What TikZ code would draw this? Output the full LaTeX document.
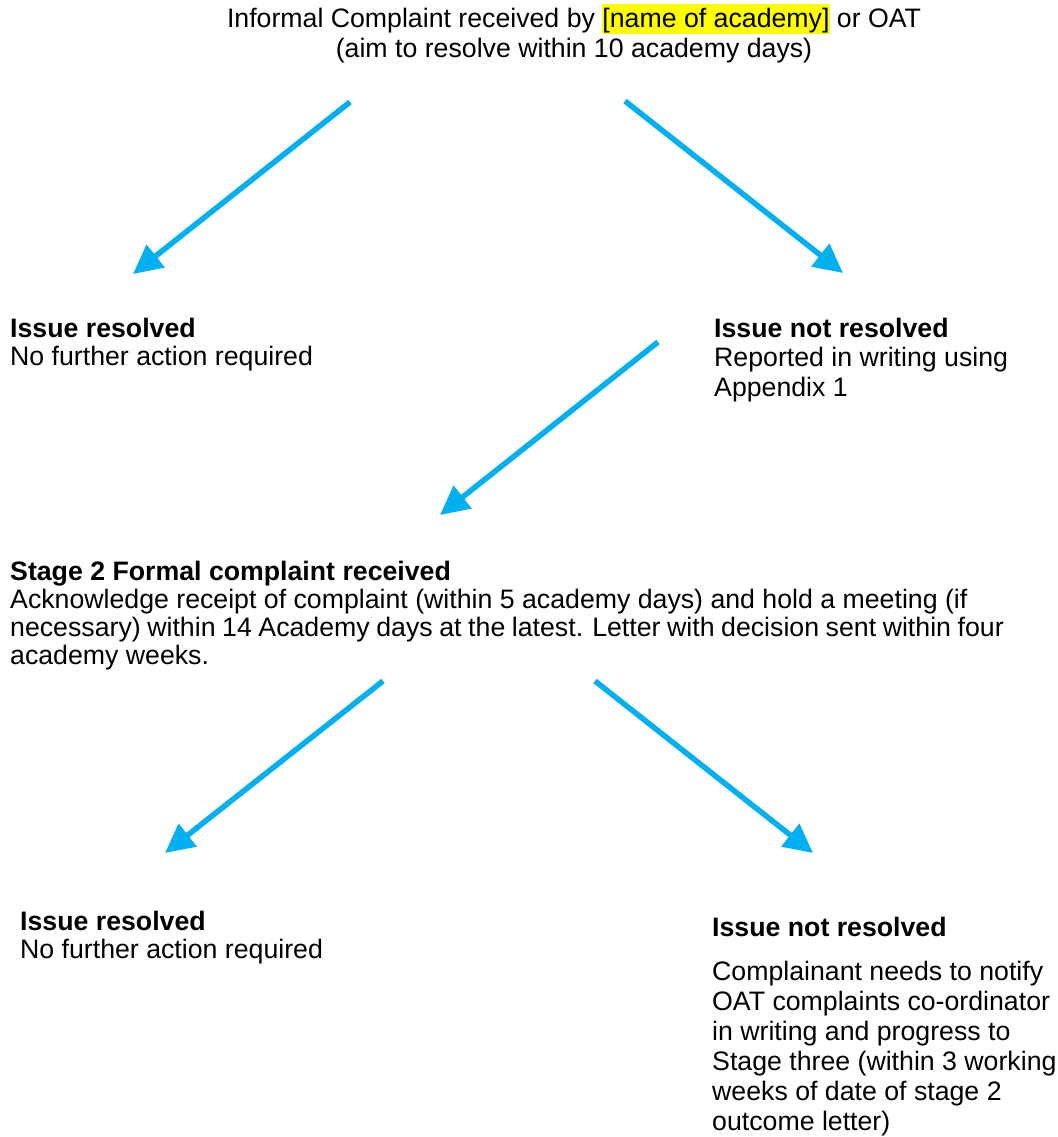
\documentclass[tikz,border=0pt]{standalone}
\usepackage{fontspec}
\setmainfont{Liberation Sans}
\usetikzlibrary{arrows.meta}
\definecolor{arrowblue}{RGB}{0,176,240}
\definecolor{hlyellow}{RGB}{255,255,0}
\newcommand{\hlbox}[1]{{\setlength{\fboxsep}{0pt}\colorbox{hlyellow}{\rule[-6pt]{0pt}{30pt}#1}}}
\begin{document}
\begin{tikzpicture}[x=1pt,y=-1pt,
  txt/.style={anchor=base west, inner sep=0pt, font=\fontsize{26.7}{29}\selectfont},
  ctxt/.style={anchor=base, inner sep=0pt, font=\fontsize{26.7}{29}\selectfont},
  flow/.style={draw=arrowblue, line width=5.5pt, -{Triangle[length=29pt,width=28pt]}}]
\useasboundingbox (0,0) rectangle (1057,1137);

% texts
\node[ctxt] (title) at (574,28) {\vtop{\baselineskip=30pt\halign{\hfil#\hfil\cr
  Informal Complaint received by \hlbox{[name of academy]} or OAT\cr
  (aim to resolve within 10 academy days)\cr}}};

\node[txt] (res1) at (10,337) {\vtop{\baselineskip=28pt
  \hbox{\bfseries Issue resolved}
  \hbox{No further action required}}};

\node[txt] (nres1) at (714,337) {\vtop{\baselineskip=29.5pt
  \hbox{\bfseries Issue not resolved}
  \hbox{Reported in writing using}
  \hbox{Appendix 1}}};

\node[txt] (stage2) at (10,580) {\vtop{\baselineskip=28.3pt
  \hbox{\bfseries Stage 2 Formal complaint received}
  \hbox{Acknowledge receipt of complaint (within 5 academy days) and hold a meeting (if}
  \hbox{\spaceskip=6.6pt necessary) within 14 Academy days at the latest. Letter with decision sent within four}
  \hbox{academy weeks.}}};

\node[txt] (res2) at (20,930) {\vtop{\baselineskip=28pt
  \hbox{\bfseries Issue resolved}
  \hbox{No further action required}}};

\node[txt] (nres2) at (712,936) {\vtop{\baselineskip=30pt
  \hbox{\bfseries Issue not resolved}
  \vskip 14pt
  \hbox{Complainant needs to notify}
  \hbox{OAT complaints co-ordinator}
  \hbox{in writing and progress to}
  \hbox{Stage three (within 3 working}
  \hbox{weeks of date of stage 2}
  \hbox{outcome letter)}}};

% arrow end points
\coordinate (a1s) at (350,102); \coordinate (a1e) at (133,274);
\coordinate (a2s) at (625,101); \coordinate (a2e) at (843,273);
\coordinate (a3s) at (658,342); \coordinate (a3e) at (440,515);
\coordinate (a4s) at (383,681); \coordinate (a4e) at (165,853);
\coordinate (a5s) at (595,681); \coordinate (a5e) at (813,853);

\draw[flow] (a1s) -- (a1e);
\draw[flow] (a2s) -- (a2e);
\draw[flow] (a3s) -- (a3e);
\draw[flow] (a4s) -- (a4e);
\draw[flow] (a5s) -- (a5e);
\end{tikzpicture}
\end{document}
